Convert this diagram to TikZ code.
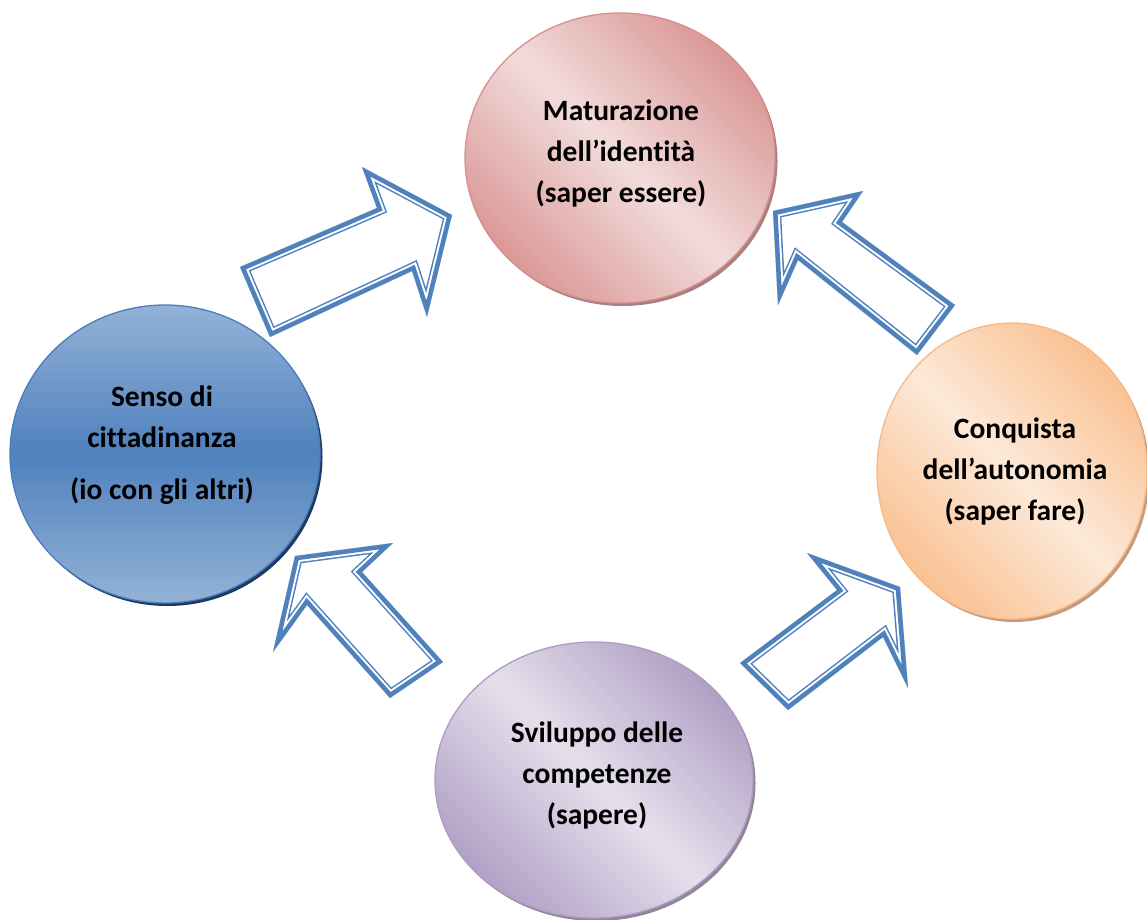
\documentclass[tikz,border=0pt]{standalone}
\usepackage{fontspec}
\setmainfont{Carlito}[Ligatures={TeX,NoCommon}]

\definecolor{arrowblue}{HTML}{4F81BD}
\definecolor{roseDark}{HTML}{DA9796}
\definecolor{roseLight}{HTML}{F2DCDB}
\definecolor{roseEdge}{HTML}{D7908E}
\definecolor{roseShadow}{HTML}{A8807F}
\definecolor{blueLight}{HTML}{95B3D7}
\definecolor{blueMid}{HTML}{4F81BD}
\definecolor{blueEdge}{HTML}{4A7EBB}
\definecolor{blueShadow}{HTML}{1F3A60}
\definecolor{peachDark}{HTML}{F9BE8C}
\definecolor{peachLight}{HTML}{FDE9D9}
\definecolor{peachEdge}{HTML}{F8B987}
\definecolor{peachShadow}{HTML}{C49A7C}
\definecolor{lilacDark}{HTML}{B09FC5}
\definecolor{lilacLight}{HTML}{E6E0EC}
\definecolor{lilacEdge}{HTML}{AE9CC4}
\definecolor{lilacShadow}{HTML}{8F8698}

\tikzset{
  bubbletext/.style={align=center, inner sep=0pt, font=\bfseries\fontsize{29.5}{41}\selectfont}
}

\newcommand\dblarrow[1]{%
  \begin{scope}
    \clip #1 -- cycle;
    \draw[arrowblue, line width=16pt] #1 -- cycle;
    \draw[white, line width=13pt] #1 -- cycle;
    \draw[arrowblue, line width=9pt] #1 -- cycle;
  \end{scope}}

% x, y, x radius, y radius, angle, outer colour, inner colour, shadow, edge
\newcommand\bubble[9]{%
  \fill[#8] (#1+2.5,#2+3) ellipse [x radius=#3, y radius=#4];
  \begin{scope}
    \clip (#1,#2) ellipse [x radius=#3, y radius=#4];
    \fill[#6] (#1-200,#2-200) rectangle (#1+200,#2+200);
    \begin{scope}[shift={(#1,#2)}, rotate=#5]
      \foreach \i in {0,...,79}{
        \pgfmathsetmacro\m{100*(1-abs(2*(\i+0.5)/80-1))}
        \fill[#7!\m!#6] (-200,{-152+\i*3.8}) rectangle (200,{-152+(\i+1)*3.8+0.4});
      }
    \end{scope}
  \end{scope}
  \draw[#9, line width=1.3pt] (#1,#2) ellipse [x radius=#3, y radius=#4];
}

\begin{document}
\begin{tikzpicture}[x=1pt, y=-1pt]
\useasboundingbox (0,0) rectangle (1147,919);
\foreach \pts in {
 {(240,267) -- (377,208) -- (362,167) -- (452,215) -- (427,317) -- (412,271) -- (270,337)},
 {(773,211) -- (863,191) -- (842,222) -- (955,305) -- (917,355) -- (798,260) -- (778,305)},
 {(295,556) -- (393,543) -- (362,572) -- (443,662) -- (390,698) -- (307,605) -- (273,652)},
 {(740,663) -- (837,590) -- (807,553) -- (900,587) -- (908,688) -- (883,637) -- (788,710)}}{
 \dblarrow{\pts}
}
\bubble{620}{158}{155}{145}{-45}{roseDark}{roseLight}{roseShadow}{roseEdge}
\bubble{165}{454}{155}{149}{0}{blueLight}{blueMid}{blueShadow}{blueEdge}
\bubble{1012}{471}{135}{148}{-45}{peachDark}{peachLight}{peachShadow}{peachEdge}
\bubble{594}{780}{159}{138}{-45}{lilacDark}{lilacLight}{lilacShadow}{lilacEdge}

\node[bubbletext] (identita) at (621,153) {Maturazione\\dell'identità\\(saper essere)};
\node[bubbletext] (cittadinanza) at (162,445) {Senso di\\cittadinanza\\[11pt](io con gli altri)};
\node[bubbletext] (autonomia) at (1015,471) {Conquista\\dell'autonomia\\(saper fare)};
\node[bubbletext] (competenze) at (597,775) {Sviluppo delle\\competenze\\(sapere)};
\end{tikzpicture}
\end{document}
